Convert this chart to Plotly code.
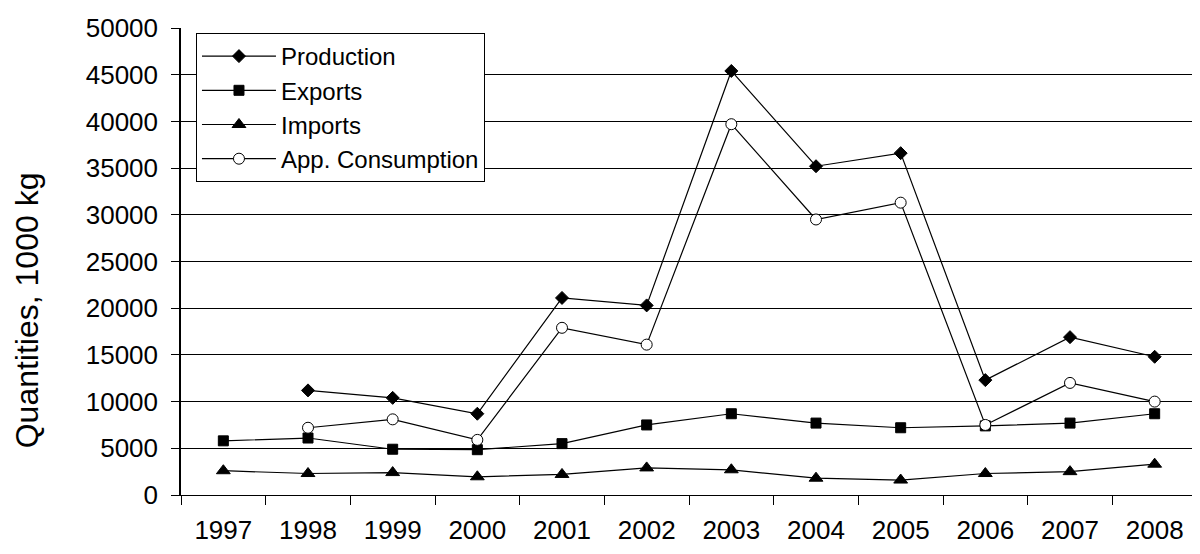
import plotly.graph_objects as go

years = ["1997", "1998", "1999", "2000", "2001", "2002", "2003", "2004", "2005", "2006", "2007", "2008"]
production = [None, 11200, 10400, 8700, 21100, 20300, 45400, 35200, 36600, 12300, 16900, 14800]
exports = [5800, 6100, 4900, 4850, 5500, 7500, 8700, 7700, 7200, 7400, 7700, 8700]
imports = [2600, 2300, 2400, 1950, 2200, 2900, 2700, 1800, 1600, 2300, 2500, 3300]
app_consumption = [None, 7200, 8100, 5900, 17900, 16100, 39700, 29500, 31300, 7500, 12000, 10000]
y_ticks = [0, 5000, 10000, 15000, 20000, 25000, 30000, 35000, 40000, 45000, 50000]

FONT = "Liberation Sans, Arial, sans-serif"

fig = go.Figure()

def add(name, vals, symbol, size, fill):
    fig.add_trace(go.Scatter(
        x=years, y=vals, name=name, mode="lines+markers",
        line=dict(color="black", width=1.2),
        marker=dict(symbol=symbol, size=size, color=fill,
                    line=dict(color="black", width=1)),
        connectgaps=False,
    ))

add("Production", production, "diamond", 10, "black")
add("Exports", exports, "square", 10, "black")
add("Imports", imports, "triangle-up", 12, "black")
add("App. Consumption", app_consumption, "circle", 11, "white")

# page has an 8px body margin: the figure div starts at (8, 8)
OFF = 8
W, H = 1200 - OFF, 554 - OFF
px_left, px_right, px_top, px_bottom = 181, 1199, 28, 495   # page coordinates of plot area
L = px_left - OFF
R = W - (px_right - OFF)
T = px_top - OFF
B = H - (px_bottom - OFF)
pw, ph = W - L - R, H - T - B

def paper_x(px):
    return (px - px_left) / pw

def paper_y(py):
    return (px_bottom - py) / ph

fig.update_layout(
    width=W, height=H, autosize=False,
    margin=dict(l=L, r=R, t=T, b=B, pad=0),
    paper_bgcolor="white", plot_bgcolor="white",
    font=dict(family=FONT, color="black", size=26),
    showlegend=True,
    legend=dict(
        x=paper_x(196), y=paper_y(33), xanchor="left", yanchor="top",
        bgcolor="white", bordercolor="black", borderwidth=1,
        font=dict(family=FONT, size=24, color="black"),
        itemwidth=74, tracegroupgap=0,
    ),
    xaxis=dict(
        type="category", range=[-0.5, 11.5], tickson="boundaries",
        showgrid=False, showline=True, linecolor="black", linewidth=1,
        ticks="outside", ticklen=9, tickcolor="black", tickwidth=1,
        tickfont=dict(family=FONT, size=26, color="black"),
        ticklabelstandoff=12,
        mirror=False, zeroline=False,
    ),
    yaxis=dict(
        range=[0, 50000], tickvals=y_ticks, ticktext=[str(v) for v in y_ticks],
        showgrid=True, gridcolor="black", gridwidth=1,
        showline=True, linecolor="black", linewidth=1.5, mirror=True,
        ticks="outside", ticklen=8, tickcolor="black", tickwidth=1,
        tickfont=dict(family=FONT, size=26, color="black"),
        ticklabelstandoff=8,
        zeroline=False,
    ),
    annotations=[dict(
        text="Quantities, 1000 kg", textangle=-90,
        xref="paper", yref="paper",
        x=paper_x(27), y=paper_y(310),
        xanchor="center", yanchor="middle", showarrow=False,
        font=dict(family=FONT, size=32, color="black"),
    )],
)

fig.write_html("out.html")
